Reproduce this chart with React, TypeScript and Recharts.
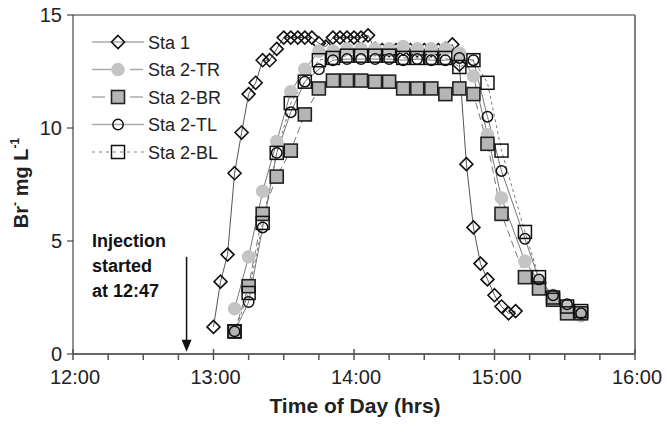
import React from 'react';
import { LineChart, Line, XAxis, YAxis, ReferenceLine, Legend } from 'recharts';

// minutes after 12:00
const sta1Times = [
  60, 63, 66, 69, 72, 75, 78, 81, 84, 87, 90, 93, 96, 99, 102, 105, 108, 111, 114, 117, 120, 123,
  126, 129, 132, 135, 138, 141, 144, 147, 150, 153, 156, 159, 162, 165, 168, 171, 174, 177, 180,
  183, 186, 189,
];
const sta1Values = [
  1.2, 3.2, 4.4, 8.0, 9.8, 11.5, 12.0, 13.0, 13.0, 13.5, 14.0, 14.0, 14.0, 14.0, 14.0, 13.75, 13.6,
  14.0, 14.0, 14.0, 14.0, 14.0, 14.1, 13.5, 13.45, 13.45, 13.45, 13.5, 13.45, 13.45, 13.45, 13.45,
  13.45, 13.5, 13.7, 12.8, 8.4, 5.6, 4.0, 3.3, 2.6, 2.1, 1.8, 1.9,
];

const sta2Times = [
  69, 75, 81, 87, 93, 99, 105, 111, 117, 123, 129, 135, 141, 147, 153, 159, 165, 171, 177, 183,
  193, 199, 205, 211, 217,
];
const sta2TR = [
  2.0, 4.3, 7.2, 9.4, 11.6, 12.6, 13.4, 13.4, 13.5, 13.5, 13.5, 13.5, 13.6, 13.5, 13.5, 13.5, 13.3,
  12.3, 9.7, 6.9, 4.1, 3.2, 2.6, 2.1, 1.7,
];
const sta2BR = [
  1.0, 3.0, 6.2, 7.85, 9.0, 10.6, 11.75, 12.1, 12.1, 12.1, 12.05, 12.05, 11.75, 11.75, 11.75, 11.5,
  11.75, 11.5, 9.3, 6.2, 3.4, 2.9, 2.4, 1.8, 1.8,
];
const sta2TL = [
  1.0, 2.3, 5.6, 8.9, 10.7, 12.05, 12.6, 13.0, 13.05, 13.05, 13.05, 13.05, 13.0, 13.05, 13.0, 13.0,
  13.1, 13.0, 10.5, 8.1, 5.1, 3.3, 2.6, 2.2, 1.8,
];
const sta2BL = [
  1.0, 2.7, 5.8, 8.9, 11.1, 12.05, 13.0, 13.1, 13.2, 13.2, 13.2, 13.2, 13.1, 13.1, 13.1, 13.1, 12.7,
  13.0, 12.0, 9.0, 5.4, 3.4, 2.5, 2.1, 1.9,
];

const xTicks = [0, 15, 30, 45, 60, 75, 90, 105, 120, 135, 150, 165, 180, 195, 210, 225, 240];
const xLabels: Record<number, string> = { 0: '12:00', 60: '13:00', 120: '14:00', 180: '15:00', 240: '16:00' };
const yTicks = [0, 5, 10, 15];
const injectionTime = 48.5;

const toRows = (times: number[], vals: number[]) => times.map((t, i) => ({ t, v: vals[i] }));

const sta1Data = toRows(sta1Times, sta1Values);
const trData = toRows(sta2Times, sta2TR);
const brData = toRows(sta2Times, sta2BR);
const tlData = toRows(sta2Times, sta2TL);
const blData = toRows(sta2Times, sta2BL);

const FONT = "'Liberation Sans', Arial, sans-serif";
const PLOT_BOTTOM = 354;

type MarkerKind = 'diamond' | 'grayCircle' | 'graySquare' | 'circle' | 'square';

const drawMarker = (kind: MarkerKind, cx: number, cy: number, key?: any) => {
  switch (kind) {
    case 'diamond': {
      const r = 6.5;
      return (
        <polygon
          key={key}
          points={`${cx},${cy - r} ${cx + r},${cy} ${cx},${cy + r} ${cx - r},${cy}`}
          fill="none"
          stroke="#111"
          strokeWidth={1.6}
        />
      );
    }
    case 'grayCircle':
      return <circle key={key} cx={cx} cy={cy} r={6.8} fill="#c4c4c4" />;
    case 'graySquare':
      return <rect key={key} x={cx - 6.5} y={cy - 6.5} width={13} height={13} fill="#b5b5b5" stroke="#222" strokeWidth={1.6} />;
    case 'circle':
      return <circle key={key} cx={cx} cy={cy} r={5.2} fill="none" stroke="#111" strokeWidth={1.5} />;
    default:
      return <rect key={key} x={cx - 6.5} y={cy - 6.5} width={13} height={13} fill="none" stroke="#111" strokeWidth={1.5} />;
  }
};

const dotOf = (kind: MarkerKind) => (p: any) => {
  if (p.cx == null || p.cy == null) return <g key={p.index} />;
  return drawMarker(kind, p.cx, p.cy, p.index);
};

const legendItems: { name: string; kind: MarkerKind; segs: [number, number][]; dash?: string }[] = [
  { name: 'Sta 1', kind: 'diamond', segs: [[4, 56]] },
  { name: 'Sta 2-TR', kind: 'grayCircle', segs: [[4, 24], [42, 55]] },
  { name: 'Sta 2-BR', kind: 'graySquare', segs: [[4, 17], [42, 55]] },
  { name: 'Sta 2-TL', kind: 'circle', segs: [[4, 56]] },
  { name: 'Sta 2-BL', kind: 'square', segs: [[4, 56]], dash: '3 4' },
];

const renderLegend = () => (
  <svg width={140} height={140}>
    {legendItems.map((it, i) => {
      const cy = 14 + i * 27.5;
      return (
        <g key={it.name}>
          {it.segs.map(([a, b], j) => (
            <line key={j} x1={a} x2={b} y1={cy} y2={cy} stroke="#aaa" strokeWidth={1.5} strokeDasharray={it.dash} />
          ))}
          {drawMarker(it.kind, 30, cy)}
          <text x={60} y={cy + 6.5} fontFamily={FONT} fontSize={18} fill="#222">
            {it.name}
          </text>
        </g>
      );
    })}
  </svg>
);

const XTick = (props: any) => {
  const { x, payload } = props;
  const v = payload.value as number;
  const label = xLabels[v];
  return (
    <g>
      <line x1={x} x2={x} y1={label ? PLOT_BOTTOM - 5 : PLOT_BOTTOM} y2={PLOT_BOTTOM + 6} stroke="#555" strokeWidth={1.5} />
      {label && (
        <text x={x + 2} y={PLOT_BOTTOM + 30} textAnchor="middle" fontFamily={FONT} fontSize={20} fill="#222">
          {label}
        </text>
      )}
    </g>
  );
};

const YLabel = () => (
  <text
    transform="translate(28,183) rotate(-90)"
    textAnchor="middle"
    fontFamily={FONT}
    fontWeight="bold"
    fontSize={20}
    fill="#222"
  >
    Br<tspan fontSize={12} dy={-9}>-</tspan>
    <tspan dy={9}> mg L</tspan>
    <tspan fontSize={12} dy={-9}>-1</tspan>
  </text>
);

const XLabel = () => (
  <text x={355} y={413} textAnchor="middle" fontFamily={FONT} fontWeight="bold" fontSize={21} fill="#222">
    Time of Day (hrs)
  </text>
);

const Arrow = (p: any) => {
  const { x1, y1, x2, y2 } = p;
  return (
    <g>
      <line x1={x1} y1={y1} x2={x2} y2={y2 - 10} stroke="#111" strokeWidth={1.5} />
      <polygon points={`${x2 - 5},${y2 - 12} ${x2 + 5},${y2 - 12} ${x2},${y2}`} fill="#111" />
    </g>
  );
};

export default function App() {
  return (
    <div style={{ position: 'absolute', left: 0, top: 0, width: 667, height: 432, background: '#fff', fontFamily: FONT }}>
      <LineChart width={667} height={432} margin={{ top: 15, right: 32, bottom: 0, left: 0 }}>
        <XAxis
          type="number"
          dataKey="t"
          domain={[0, 240]}
          ticks={xTicks}
          interval={0}
          tickLine={false}
          tick={<XTick />}
          height={78}
          stroke="#666"
          strokeWidth={2}
          label={<XLabel />}
        />
        <YAxis
          type="number"
          domain={[0, 15]}
          ticks={yTicks}
          width={73}
          tickSize={6}
          tickMargin={5}
          stroke="#222"
          tick={{ fontSize: 20, fill: '#222', fontFamily: FONT }}
          label={<YLabel />}
        />
        <ReferenceLine y={15} stroke="#333" strokeWidth={1.2} />
        <ReferenceLine x={240} stroke="#555" strokeWidth={1.5} />
        <ReferenceLine
          segment={[{ x: injectionTime, y: 4.3 }, { x: injectionTime, y: 0.1 }]}
          shape={<Arrow />}
        />
        <Legend
          layout="horizontal"
          verticalAlign="middle"
          align="center"
          content={renderLegend}
          wrapperStyle={{ left: 88, top: 28, width: 140, height: 140 }}
        />
        <Line data={sta1Data} dataKey="v" name="Sta 1" stroke="#555" strokeWidth={1} dot={dotOf('diamond')} isAnimationActive={false} />
        <Line data={trData} dataKey="v" name="Sta 2-TR" stroke="#777" strokeWidth={1} dot={dotOf('grayCircle')} isAnimationActive={false} />
        <Line data={brData} dataKey="v" name="Sta 2-BR" stroke="#777" strokeWidth={1} strokeDasharray="7 4" dot={dotOf('graySquare')} isAnimationActive={false} />
        <Line data={tlData} dataKey="v" name="Sta 2-TL" stroke="#777" strokeWidth={1} dot={dotOf('circle')} isAnimationActive={false} />
        <Line data={blData} dataKey="v" name="Sta 2-BL" stroke="#777" strokeWidth={1} strokeDasharray="3 3" dot={dotOf('square')} isAnimationActive={false} />
      </LineChart>
      <div
        style={{
          position: 'absolute',
          left: 92,
          top: 229,
          fontFamily: FONT,
          fontWeight: 'bold',
          fontSize: 18,
          lineHeight: '25px',
          color: '#111',
        }}
      >
        Injection
        <br />
        started
        <br />
        at 12:47
      </div>
    </div>
  );
}
